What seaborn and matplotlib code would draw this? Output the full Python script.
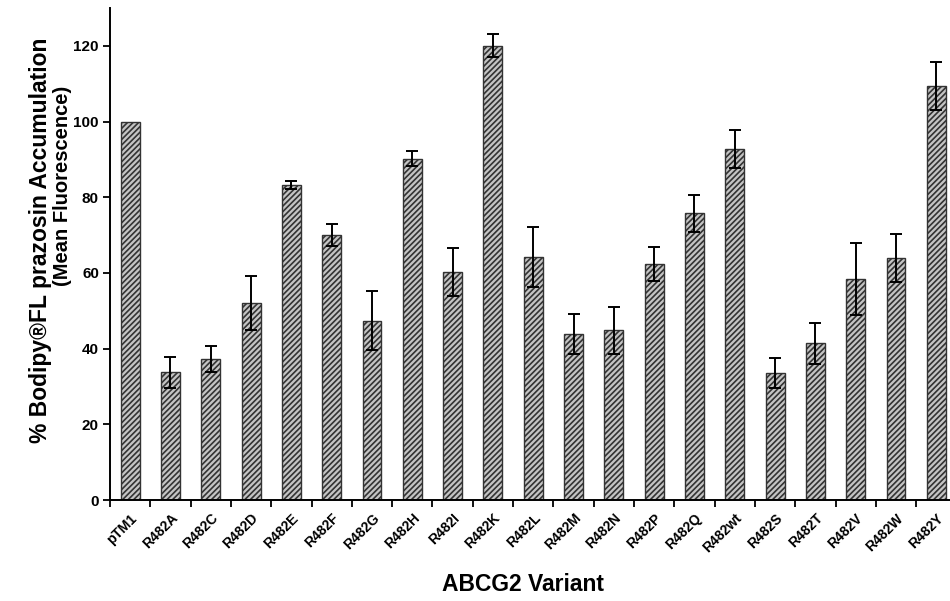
import matplotlib
matplotlib.use("Agg")
import matplotlib.pyplot as plt
import seaborn as sns
import numpy as np
import pandas as pd

# values
variants = ['pTM1', 'R482A', 'R482C', 'R482D', 'R482E', 'R482F', 'R482G', 'R482H',
            'R482I', 'R482K', 'R482L', 'R482M', 'R482N', 'R482P', 'R482Q', 'R482wt',
            'R482S', 'R482T', 'R482V', 'R482W', 'R482Y']
accumulation = [100, 33.7, 37.3, 52.1, 83.2, 70.0, 47.4, 90.2,
                60.3, 120.0, 64.2, 43.9, 44.8, 62.4, 75.8, 92.8,
                33.6, 41.4, 58.3, 63.9, 109.4]
sem = [0, 4.1, 3.5, 7.2, 1.1, 2.9, 7.8, 2.0,
       6.3, 3.0, 7.9, 5.2, 6.3, 4.5, 4.9, 5.0,
       4.0, 5.4, 9.5, 6.3, 6.4]
y_ticks = [0, 20, 40, 60, 80, 100, 120]

sns.set_style('ticks')
plt.rcParams['font.family'] = ['Liberation Sans', 'DejaVu Sans']
plt.rcParams['font.weight'] = 'bold'
plt.rcParams['text.color'] = 'black'
plt.rcParams['axes.labelcolor'] = 'black'
plt.rcParams['xtick.color'] = 'black'
plt.rcParams['ytick.color'] = 'black'
plt.rcParams['hatch.linewidth'] = 1.2
plt.rcParams['hatch.color'] = '#111111'

df = pd.DataFrame({'Variant': variants, 'Value': accumulation})

fig = plt.figure(figsize=(9.5, 6.01), dpi=100)
ax = fig.add_axes([0.1158, 0.168, 0.891, 0.8187])

sns.barplot(x='Variant', y='Value', data=df, color='#c4c4c4', width=0.47,
            edgecolor='#333333', linewidth=1.0, ax=ax, errorbar=None,
            saturation=1)
for bar in ax.patches:
    bar.set_hatch('//////')

# error bars (pTM1 is the reference, no spread)
pos = np.arange(len(variants))
err = np.array(sem)
mask = err > 0
ax.errorbar(pos[mask], np.array(accumulation)[mask], yerr=err[mask], fmt='none',
            ecolor='black', elinewidth=1.4, capsize=4, capthick=1.4, zorder=5)

ax.set_xlim(-0.5, len(variants) - 0.5)
ax.set_ylim(0, 130)
ax.set_yticks(y_ticks)
ax.set_yticklabels([str(t) for t in y_ticks], fontsize=11, fontweight='bold')

# ticks at category boundaries, labels at centres
ax.set_xticks(pos)
ax.set_xticklabels(variants, rotation=45, ha='right', rotation_mode='anchor',
                   fontsize=10, fontweight='bold')
ax.tick_params(axis='x', which='major', length=0, pad=8)
ax.set_xticks(np.arange(-0.5, len(variants), 1), minor=True)
ax.tick_params(axis='x', which='minor', length=5, width=1.3, direction='out')
ax.tick_params(axis='y', length=5, width=1.3, direction='out', pad=3)

for s in ['top', 'right']:
    ax.spines[s].set_visible(False)
for s in ['left', 'bottom']:
    ax.spines[s].set_linewidth(1.4)
    ax.spines[s].set_color('black')

ax.set_xlabel('ABCG2 Variant', fontsize=16.5, fontweight='bold')
ax.xaxis.set_label_coords(0.488, -0.148)
ax.set_ylabel('% Bodipy®FL prazosin Accumulation', fontsize=16.5, fontweight='bold')
ax.yaxis.label.set_verticalalignment('center')
ax.yaxis.set_label_coords(-0.0827, 0.528)
fig.text(0.0653, 0.6905, '(Mean Fluorescence)', rotation=90, fontsize=14.5,
         fontweight='bold', ha='center', va='center')

fig.savefig('out.png', dpi=100)
